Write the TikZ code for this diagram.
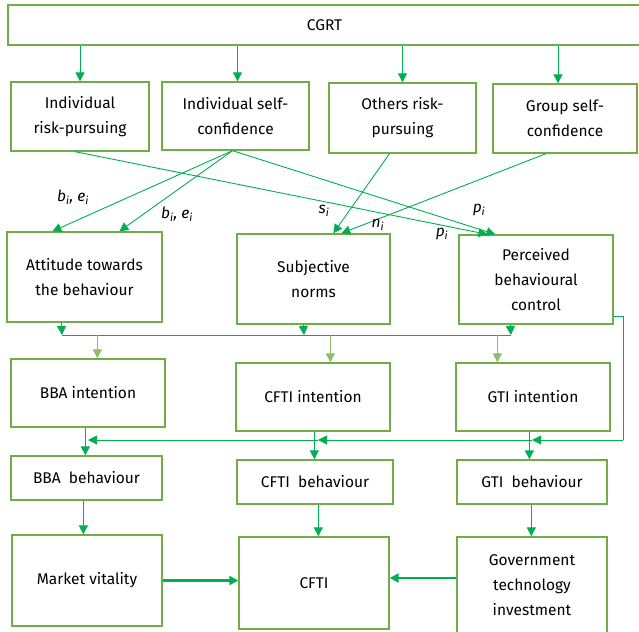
\documentclass[tikz,border=0pt]{standalone}
\usepackage{fontspec}
\setmainfont{Fira Sans}
\usetikzlibrary{calc,arrows.meta}
\definecolor{boxc}{HTML}{70AD47}
\definecolor{arrc}{HTML}{00B050}
\tikzset{
 box/.style={draw=boxc, line width=1.3pt, align=center, inner sep=0pt, font=\fontsize{15.5}{25}\selectfont},
 arr/.style={draw=arrc, line width=0.9pt, -{Triangle[length=9pt,width=9pt]}},
 larr/.style={draw=boxc!80!white, line width=0.9pt, -{Triangle[length=9pt,width=9pt]}},
 thick arr/.style={draw=arrc, line width=2.2pt, -{Triangle[length=9pt,width=9pt]}},
 plain/.style={draw=arrc, line width=0.9pt},
 lab/.style={font=\fontsize{15.5}{18}\selectfont\itshape, inner sep=0pt},
}
\newcommand\mkbox[6]{\node[box, minimum width={#4-#2}, minimum height={#5-#3}] (#1) at ({(#2+#4)/2},{(#3+#5)/2}) {#6};}
\begin{document}
\begin{tikzpicture}[x=1pt,y=-1pt]
\useasboundingbox (0,0) rectangle (639,631);
% boxes
\mkbox{cgrt}{8}{5}{641}{45}{CGRT}
\mkbox{ir}{11}{82}{149}{151}{Individual\\risk-pursuing}
\mkbox{isc}{162}{82}{309}{150}{Individual self-\\confidence}
\mkbox{orp}{329}{83}{476}{153}{Others risk-\\pursuing}
\mkbox{gsc}{493}{84}{637}{153}{Group self-\\confidence}
\mkbox{att}{7}{232}{162}{322}{Attitude towards\\the behaviour}
\mkbox{sn}{237}{234}{390}{324}{Subjective\\norms}
\mkbox{pbc}{459}{235}{613}{324}{Perceived\\behavioural\\control}
\mkbox{bbai}{11}{359}{165}{427}{BBA intention}
\mkbox{cftii}{236}{363}{390}{431}{CFTI intention}
\mkbox{gtii}{456}{363}{610}{431}{GTI intention}
\mkbox{bbab}{11}{456}{162}{500}{BBA\ \ behaviour}
\mkbox{cftib}{237}{460}{393}{504}{CFTI\ \ behaviour}
\mkbox{gtib}{457}{460}{607}{504}{GTI\ \ behaviour}
\mkbox{mv}{12}{535}{162}{626}{Market vitality}
\mkbox{cfti}{239}{537}{389}{629}{CFTI}
\mkbox{gov}{457}{537}{607}{633}{Government\\technology\\investment}
% CGRT arrows
\draw[arr] (cgrt.south -| ir.north) -- (ir.north);
\draw[arr] ($(cgrt.south -| isc.north)+(2,0)$) -- ($(isc.north)+(2,0)$);
\draw[arr] (cgrt.south -| orp.north) -- (orp.north);
\draw[arr] ($(cgrt.south -| gsc.north)+(-7,0)$) -- ($(gsc.north)+(-7,0)$);
% diagonal arrows
\draw[arr] ($(ir.south)+(-5,0)$) -- ($(pbc.north west)+(29,0)$);
\draw[arr] ($(isc.south)+(-3,0)$) -- ($(pbc.north west)+(37,0)$);
\draw[arr] ($(isc.south)+(-3,0)$) -- ($(att.north west)+(46,0)$);
\draw[arr] ($(isc.south)+(-3,0)$) -- ($(att.north west)+(113,0)$);
\draw[arr] ($(orp.south)+(-13,0)$) -- ($(sn.north west)+(97,0)$);
\draw[arr] ($(gsc.south)+(-19,0)$) -- ($(sn.north west)+(105,0)$);
% labels
\node[lab] (l1) at (73,197) {b\textsubscript{i}, e\textsubscript{i}};
\node[lab] (l2) at (177,214) {b\textsubscript{i}, e\textsubscript{i}};
\node[lab] (l3) at (324,211) {s\textsubscript{i}};
\node[lab] (l4) at (378,225) {n\textsubscript{i}};
\node[lab] (l5) at (479,210) {p\textsubscript{i}};
\node[lab] (l6) at (442,234) {p\textsubscript{i}};
% bus to intentions
\coordinate (b1) at (62,335);
\coordinate (b2) at (304,335);
\coordinate (b3) at (511,335);
\draw[arr] ($(att.south west)+(55,0)$) -- (b1);
\draw[arr] ($(sn.south west)+(67,0)$) -- (b2);
\draw[arr] ($(pbc.south west)+(52,0)$) -- (b3);
\draw[plain] (b1) -- (b3);
\draw[larr] ($(bbai.north west)+(87,-23)$) -- ($(bbai.north west)+(87,0)$);
\draw[larr] ($(cftii.north west)+(95,-27)$) -- ($(cftii.north west)+(95,0)$);
\draw[larr] ($(gtii.north west)+(42,-27)$) -- ($(gtii.north west)+(42,0)$);
% intention to behaviour
\draw[arr] ($(bbai.south west)+(75,0)$) -- ($(bbab.north west)+(75,0)$);
\draw[arr] ($(cftii.south west)+(79,0)$) -- ($(cftib.north west)+(78,0)$);
\draw[arr] ($(gtii.south west)+(74,0)$) -- ($(gtib.north west)+(73,0)$);
% PBC feedback line
\coordinate (r1) at (623,316);
\coordinate (r2) at (623,440);
\coordinate (h1) at (532,440);
\coordinate (h2) at (318,440);
\coordinate (h3) at (88,440);
\draw[plain] (pbc.east |- r1) -- (r1) -- (r2);
\draw[arr] (r2) -- (h1);
\draw[arr] (h1) -- (h2);
\draw[arr] (h2) -- (h3);
% behaviour to outcomes
\draw[arr] ($(bbab.south west)+(73,0)$) -- ($(mv.north west)+(72,0)$);
\draw[arr] ($(cftib.south west)+(82,0)$) -- ($(cfti.north west)+(80,0)$);
\draw[arr] ($(gtib.south west)+(75,0)$) -- ($(gov.north west)+(75,0)$);
% thick arrows
\draw[thick arr] (mv.east) -- (cfti.west |- mv.east);
\coordinate (gw) at (457,578);
\draw[thick arr] (gov.west |- gw) -- (cfti.east |- gw);
\end{tikzpicture}
\end{document}
